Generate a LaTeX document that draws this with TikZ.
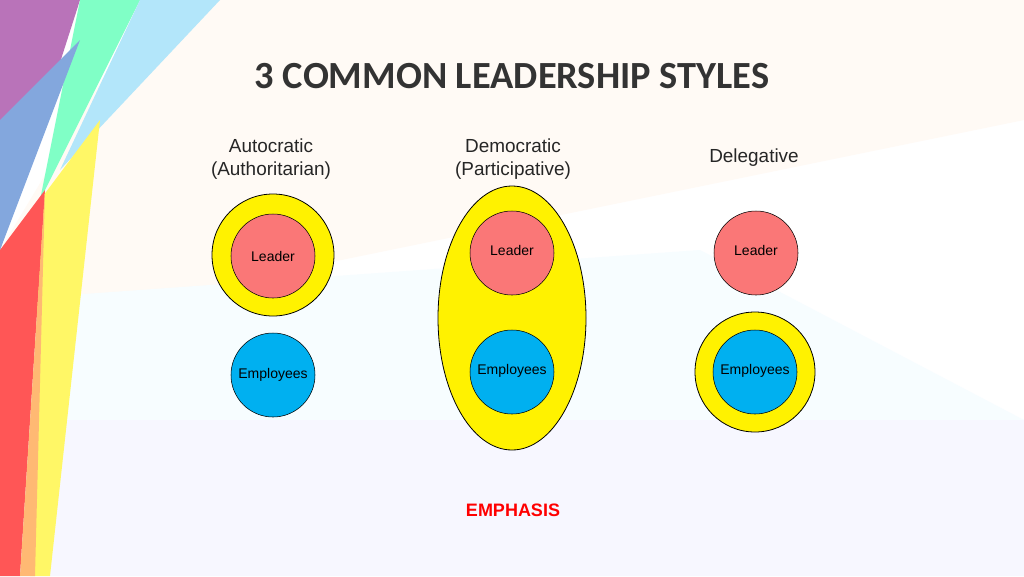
\documentclass[tikz,border=0pt]{standalone}
\usepackage{fontspec}
\setmainfont{Liberation Sans}
\newfontfamily\titlefont{Carlito}
\begin{document}
\begin{tikzpicture}[x=0.75pt,y=-0.75pt,
  lbl/.style={font=\fontsize{14.2}{17}\selectfont, text=black!85, align=center},
  yel/.style={draw=black, fill=yellow, line width=0.6pt},
  leader/.style={circle, draw=black, fill={rgb,255:red,250;green,119;blue,119}, minimum size=63pt, inner sep=0pt, font=\fontsize{10.5}{12}\selectfont},
  emp/.style={circle, draw=black, fill={rgb,255:red,0;green,176;blue,240}, minimum size=63pt, inner sep=0pt, font=\fontsize{10.5}{12}\selectfont}]
\useasboundingbox (0,0) rectangle (1024,576);
\fill[white] (0,0) rectangle (1024,576);
% soft background bands
\fill[orange!4] (150,0) -- (1024,0) -- (1024,120) -- (0,330) -- (0,250) -- cycle;
\fill[blue!3] (0,330) -- (1024,420) -- (1024,576) -- (0,576) -- cycle;
\fill[cyan!3] (0,300) -- (700,250) -- (1024,420) -- (0,420) -- cycle;
% left decoration
\fill[violet!55] (0,0) -- (80,0) -- (0,250) -- cycle;
\fill[green!45!cyan!50] (80,0) -- (140,0) -- (40,200) -- cycle;
\fill[cyan!30] (140,0) -- (220,0) -- (60,170) -- cycle;
\fill[cyan!50!blue!50] (0,120) -- (80,40) -- (0,250) -- cycle;
\fill[yellow!60] (40,200) -- (100,120) -- (50,576) -- (30,576) -- cycle;
\fill[red!55!pink] (0,250) -- (45,190) -- (20,576) -- (0,576) -- cycle;
\fill[orange!55] (20,576) -- (45,190) -- (35,576) -- cycle;
% title
\node[font=\titlefont\bfseries\fontsize{28.8}{32}\selectfont, text=black!80] (title) at (512,76) {3 COMMON LEADERSHIP STYLES};
% headings
\node[lbl] (h1) at (271,159) {Autocratic\\(Authoritarian)};
\node[lbl] (h2) at (513,159) {Democratic\\(Participative)};
\node[lbl] (h3) at (754,158) {Delegative};
% autocratic
\draw[yel] (273,255) circle[radius=61];
\node[leader] (l1) at (273,256) {Leader};
\node[emp] (e1) at (273,375) {Employees};
% democratic
\draw[yel] (512,318) ellipse[x radius=74, y radius=132];
\node[leader] (l2) at (512,253) {\raisebox{4pt}{Leader}};
\node[emp] (e2) at (512,372) {\raisebox{4pt}{Employees}};
% delegative
\node[leader] (l3) at (756,253) {\raisebox{4pt}{Leader}};
\draw[yel] (755,372) circle[radius=60];
\node[emp] (e3) at (755,372) {\raisebox{4pt}{Employees}};
\node[font=\bfseries\fontsize{13.5}{15}\selectfont, text=red] (emph) at (513,510) {EMPHASIS};
\end{tikzpicture}
\end{document}
